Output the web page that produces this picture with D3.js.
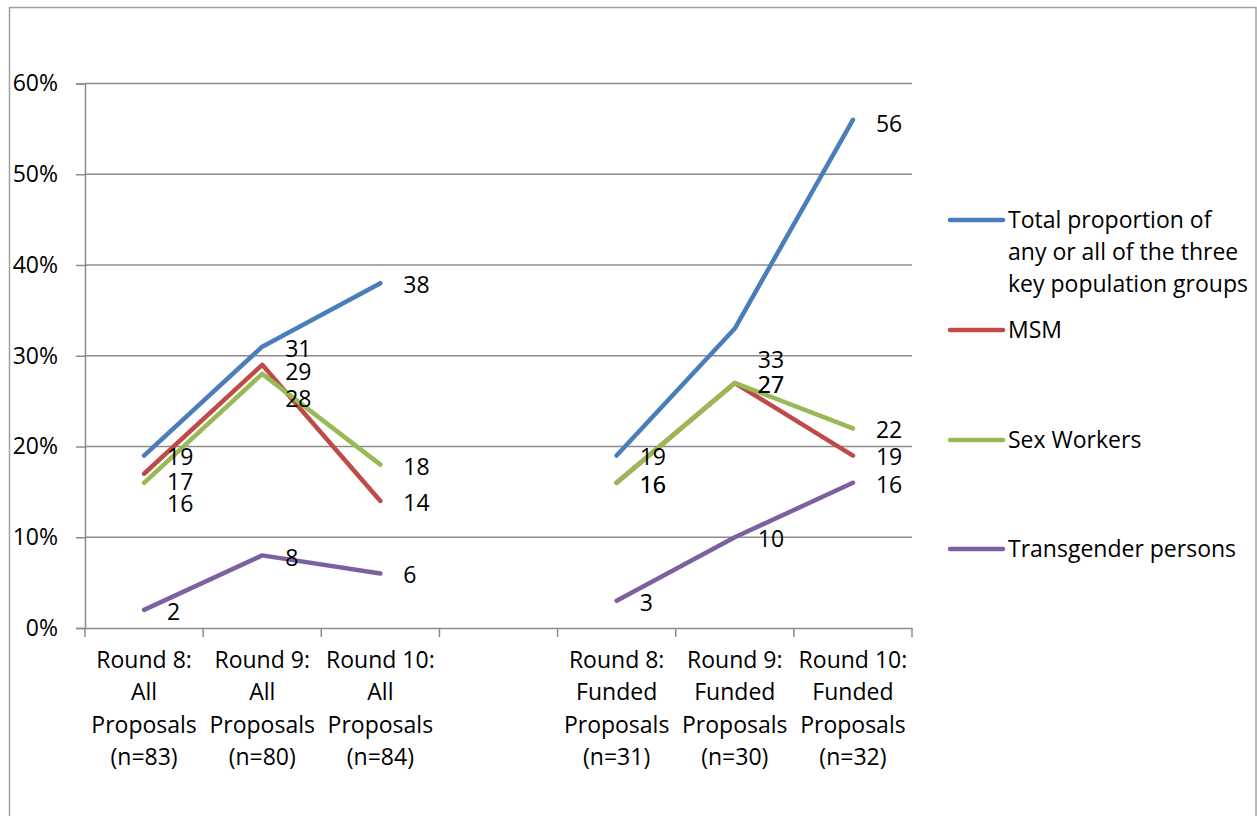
<!DOCTYPE html>
<html><head><meta charset="utf-8">
<script src="https://cdn.jsdelivr.net/npm/d3@7"></script>
<style>body{margin:0;background:#fff}svg{display:block}text{font-family:"Open Sans",sans-serif;fill:#000}</style>
</head><body>
<svg id="c" width="1257" height="816"></svg>
<script>
const categories = [
  ["Round 8:", "All", "Proposals", "(n=83)"],
  ["Round 9:", "All", "Proposals", "(n=80)"],
  ["Round 10:", "All", "Proposals", "(n=84)"],
  [],
  ["Round 8:", "Funded", "Proposals", "(n=31)"],
  ["Round 9:", "Funded", "Proposals", "(n=30)"],
  ["Round 10:", "Funded", "Proposals", "(n=32)"]
];
const seriesNames = [
  ["Total proportion of", "any or all of the three", "key population groups"],
  ["MSM"],
  ["Sex Workers"],
  ["Transgender persons"]
];
const totalValues = [19, 31, 38, null, 19, 33, 56];
const msmValues   = [17, 29, 14, null, 16, 27, 19];
const swValues    = [16, 28, 18, null, 16, 27, 22];
const tgValues    = [2, 8, 6, null, 3, 10, 16];
const yTicks = [0, 10, 20, 30, 40, 50, 60];
const colors = ["#4A7EBB", "#BE4B48", "#98B954", "#7D60A0"];
// label vertical nudges (px) where the original shifted overlapping labels
const labelNudge = [
  [0, 0, 0, 0, 0, 30, 2],
  [6, 5, 0, 0, 0, 0, 0],
  [19, 23, 0, 0, 0, 0, 0],
  [0, 1, 0, 0, 0, 0, 0]
];

const FS = "23px";
const svg = d3.select("#c");
const series = [totalValues, msmValues, swValues, tgValues];

svg.append("rect").attr("x", 9.5).attr("y", 7.5).attr("width", 1246.5).attr("height", 830)
  .attr("fill", "none").attr("stroke", "#a0a0a0").attr("stroke-width", 1.5);

const x = d3.scaleBand().domain(d3.range(categories.length)).range([85, 912]).padding(0);
const y = d3.scaleLinear().domain([0, 60]).range([628, 83.5]);
const cx = i => x(i) + x.bandwidth() / 2;

// gridlines
svg.append("g").selectAll("line").data(yTicks.filter(t => t > 0)).join("line")
  .attr("x1", 85).attr("x2", 912).attr("y1", d => y(d)).attr("y2", d => y(d))
  .attr("stroke", "#8c8c8c").attr("stroke-width", 1.5);

// y axis
const yAxis = d3.axisLeft(y).tickValues(yTicks).tickSize(9).tickPadding(18).tickFormat(d => d + "%");
const gy = svg.append("g").attr("transform", "translate(85,0)").call(yAxis);
gy.select(".domain").attr("stroke", "#8c8c8c").attr("stroke-width", 1.5);
gy.selectAll(".tick line").attr("stroke", "#8c8c8c").attr("stroke-width", 1.5);
gy.selectAll(".tick text").style("font-size", FS).attr("fill", "#000");

// x axis
const xAxis = d3.axisBottom(x).tickSize(0).tickFormat("");
const gx = svg.append("g").attr("transform", "translate(0,628)").call(xAxis);
gx.select(".domain").attr("stroke", "#8c8c8c").attr("stroke-width", 1.5);
const edges = d3.range(categories.length + 1).map(i => i < categories.length ? x(i) : x.range()[1]);
gx.selectAll(".edge").data(edges).join("line").attr("class", "edge")
  .attr("x1", d => d).attr("x2", d => d).attr("y1", 0).attr("y2", 9)
  .attr("stroke", "#8c8c8c").attr("stroke-width", 1.5);
gx.selectAll(".tick text").remove();
gx.selectAll(".tick").each(function(d) {
  const t = d3.select(this).append("text").attr("text-anchor", "middle").style("font-size", FS);
  categories[d].forEach((ln, k) => t.append("tspan").attr("x", 0).attr("y", 40 + k * 32.3).text(ln));
});

// lines
const line = d3.line().defined(d => d.v != null).x(d => cx(d.i)).y(d => y(d.v));
series.forEach((vals, s) => {
  const data = vals.map((v, i) => ({ v, i }));
  svg.append("path").datum(data).attr("d", line).attr("fill", "none")
    .attr("stroke", colors[s]).attr("stroke-width", 4.5)
    .attr("stroke-linecap", "round").attr("stroke-linejoin", "round");
});

// data labels
series.forEach((vals, s) => {
  svg.append("g").selectAll("text").data(vals.map((v, i) => ({ v, i })).filter(d => d.v != null)).join("text")
    .attr("x", d => cx(d.i) + 23).attr("y", d => y(d.v) + labelNudge[s][d.i])
    .attr("dy", "0.43em").style("font-size", FS).text(d => d.v);
});

// legend
const legendY = [220, 330, 440, 549];
const lg = svg.append("g");
seriesNames.forEach((name, s) => {
  lg.append("line").attr("x1", 950).attr("x2", 1003).attr("y1", legendY[s]).attr("y2", legendY[s])
    .attr("stroke", colors[s]).attr("stroke-width", 4.5).attr("stroke-linecap", "round");
  const t = lg.append("text").style("font-size", FS);
  name.forEach((ln, k) => t.append("tspan").attr("x", 1008).attr("y", legendY[s] + k * 32).attr("dy", "0.35em").text(ln));
});
</script>
</body></html>
